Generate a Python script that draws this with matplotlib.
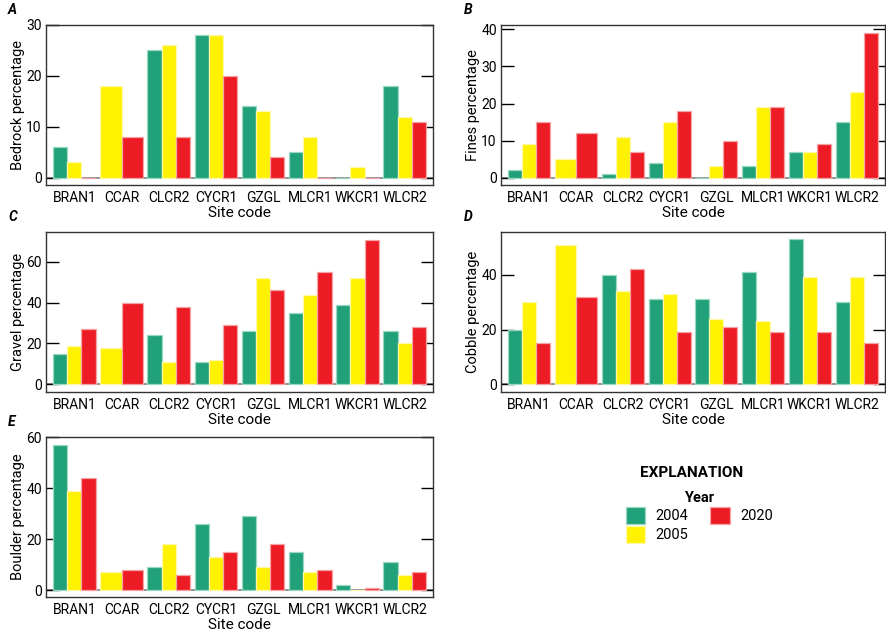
import numpy as np
import matplotlib
matplotlib.use('Agg')
import matplotlib.pyplot as plt
from matplotlib.patches import Patch

plt.rcParams['font.family'] = ['Roboto', 'DejaVu Sans']

sites = ['BRAN1', 'CCAR', 'CLCR2', 'CYCR1', 'GZGL', 'MLCR1', 'WKCR1', 'WLCR2']
years = ['2004', '2005', '2020']
nan = np.nan

# percentages per year, site order as above (CCAR not sampled in 2004)
bedrock = {
    '2004': [6, nan, 25, 28, 14, 5, 0, 18],
    '2005': [3, 18, 26, 28, 13, 8, 2, 12],
    '2020': [0, 8, 8, 20, 4, 0, 0, 11],
}
fines = {
    '2004': [2, nan, 1, 4, 0, 3, 7, 15],
    '2005': [9, 5, 11, 15, 3, 19, 7, 23],
    '2020': [15, 12, 7, 18, 10, 19, 9, 39],
}
gravel = {
    '2004': [15, nan, 24, 11, 26, 35, 39, 26],
    '2005': [19, 18, 11, 12, 52, 44, 52, 20],
    '2020': [27, 40, 38, 29, 46, 55, 71, 28],
}
cobble = {
    '2004': [20, nan, 40, 31, 31, 41, 53, 30],
    '2005': [30, 51, 34, 33, 24, 23, 39, 39],
    '2020': [15, 32, 42, 19, 21, 19, 19, 15],
}
boulder = {
    '2004': [57, nan, 9, 26, 29, 15, 2, 11],
    '2005': [39, 7, 18, 13, 9, 7, 0, 6],
    '2020': [44, 8, 6, 15, 18, 8, 1, 7],
}

colors = {'2004': '#21a179', '2005': '#fff200', '2020': '#ed1c24'}
edges = {'2004': '#9ad8c2', '2005': '#fff8a8', '2020': '#f7a3a6'}

W, H = 886, 634
fig = plt.figure(figsize=(W / 100, H / 100), dpi=100)


def px_axes(left, top, right, bottom):
    return fig.add_axes([left / W, 1 - bottom / H, (right - left) / W, (bottom - top) / H])


def draw_panel(ax, data, ylabel, ylim, yticks, letter):
    ax.axhline(0, color='#808080', lw=1.2, zorder=1)
    group_w = 0.9
    for i in range(len(sites)):
        present = [y for y in years if not np.isnan(data[y][i])]
        w = group_w / len(present)
        for k, y in enumerate(present):
            x = i - group_w / 2 + w * (k + 0.5)
            ax.bar(x, data[y][i], width=w, color=colors[y], edgecolor=edges[y],
                   linewidth=0.9, zorder=2)
    ax.set_xlim(-0.6, len(sites) - 0.4)
    ax.set_ylim(*ylim)
    ax.set_yticks(yticks)
    ax.set_xticks(range(len(sites)))
    ax.set_xticklabels(sites)
    ax.tick_params(axis='x', length=0, pad=4, labelsize=10)
    ax.tick_params(axis='y', direction='in', length=9, width=1, left=True, right=True,
                   labelsize=10, pad=3)
    for s in ax.spines.values():
        s.set_color('#333333')
        s.set_linewidth(1)
    ax.set_xlabel('Site code', fontsize=11, labelpad=1)
    ax.set_ylabel(ylabel, fontsize=10.5, labelpad=1)
    ax.text(-0.098, 1.094, letter, transform=ax.transAxes, fontsize=10,
            fontweight='bold', style='italic', ha='left', va='center')


axA = px_axes(46, 25, 433, 185)
draw_panel(axA, bedrock, 'Bedrock percentage', (-1.45, 30), [0, 10, 20, 30], 'A')
axB = px_axes(501, 25, 885, 185)
draw_panel(axB, fines, 'Fines percentage', (-2.0, 41.2), [0, 10, 20, 30, 40], 'B')
axC = px_axes(46, 232, 433, 392)
draw_panel(axC, gravel, 'Gravel percentage', (-3.8, 74.7), [0, 20, 40, 60], 'C')
axD = px_axes(501, 232, 885, 392)
draw_panel(axD, cobble, 'Cobble percentage', (-2.8, 55.6), [0, 20, 40], 'D')
axE = px_axes(46, 437, 433, 597)
draw_panel(axE, boulder, 'Boulder percentage', (-2.7, 60), [0, 20, 40, 60], 'E')

# explanation block
fig.text(692 / W, 1 - 473 / H, 'EXPLANATION', fontsize=11, fontweight='bold',
         ha='center', va='center')
handles = [Patch(facecolor=colors[y], edgecolor=edges[y], linewidth=0.9) for y in years]
leg = fig.legend(handles, years, loc='upper left', bbox_to_anchor=(614 / W, 1 - 479 / H),
                 ncol=2, frameon=False, fontsize=10.5, title='Year',
                 title_fontproperties={'weight': 'bold', 'size': 10.5},
                 handlelength=1.35, handleheight=1.4, handletextpad=0.7,
                 labelspacing=0.15, columnspacing=1.5, borderpad=0.3)

fig.savefig('out.png', dpi=100)
